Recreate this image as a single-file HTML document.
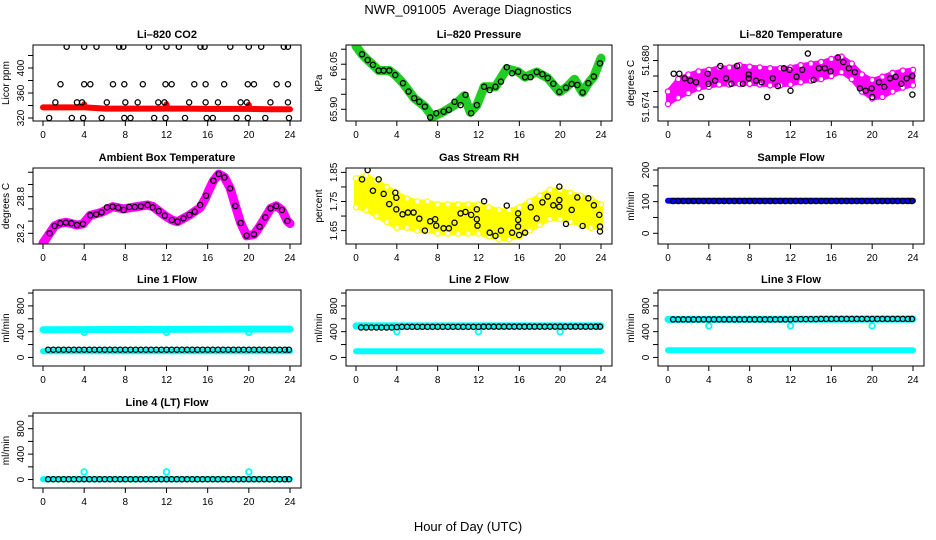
<!DOCTYPE html>
<html><head><meta charset="utf-8"><style>
html,body{margin:0;padding:0;background:#fff;}
svg{display:block;font-family:"Liberation Sans",Arial,sans-serif;}
</style></head><body>
<svg id="chart" width="936" height="540" viewBox="0 0 936 540" xmlns="http://www.w3.org/2000/svg">
<text x="468" y="14" text-anchor="middle" font-size="13">NWR_091005&#160; Average Diagnostics</text>
<text x="468" y="531" text-anchor="middle" font-size="13">Hour of Day (UTC)</text>
</svg>
<script>
// ---------- data ----------
const xTicks = [0,4,8,12,16,20,24];
// CO2
const co2BlackH = [2.3,4,5.2,7.4,7.8,10.3,12,13.2,15.3,15.7,18.2,20,21.2,23.4,23.8, 1.7,4,4.6,6.8,7.9,9.7,11.9,12.5,14.7,15.8,17.6,19.9,20.5,22.7,23.8, 1.2,3.3,3.8,6.2,8,9.2,11.2,11.8,14.2,15.8,17,19.2,19.8,22.1,23.8, 0.6,2.8,3.9,5.7,7.9,8.5,10.8,11.9,13.8,15.9,16.5,18.8,19.9,21.6,23.9];
const co2BlackV = [434,434,434,434,434,434,434,434,434,434,434,434,434,434,434, 374,374,374,374,374,374,374,374,374,374,374,374,374,374,374, 345,345,345,345,345,345,345,345,345,345,345,345,345,345,345, 320,320,320,320,320,320,320,320,320,320,320,320,320,320,320];
const co2RedH = [0,2,3.9,4,4.1,6,8,10,11.9,12,12.1,14,16,18,19.9,20,20.1,22,24];
const co2RedV = [337,337,337,342,337,335,335,335,335,342,335,335,334.5,334.5,334.5,341,334.5,334,334];
// Pressure
const presH = [0.59,1.14,1.66,2.22,2.71,3.26,3.85,4.6,5.15,5.7,6.2,6.75,7.27,7.86,8.58,9.1,9.65,10.24,10.73,11.28,11.84,12.55,13.1,13.66,14.2,14.77,15.29,15.88,16.56,17.1,17.7,18.26,18.78,19.33,19.92,20.57,21.13,21.68,22.2,22.76,23.3,23.9];
const presV = [66.083,66.064,66.048,66.029,66.029,66.029,66.014,65.987,65.959,65.937,65.925,65.909,65.873,65.887,65.892,65.898,65.925,65.914,65.948,65.887,65.914,65.975,65.964,65.975,65.992,66.040,66.020,66.025,66.007,66.007,66.024,66.017,66.004,65.985,65.958,65.972,65.984,65.981,65.956,65.987,66.009,66.053];
const presGreenH = [0,0.59,1.14,1.66,2.22,3.26,3.85,4.6,5.7,6.75,7.5,8.58,9.65,10.6,11.2,11.84,12.55,13.66,14.77,15.88,16.56,17.7,18.78,19.92,20.57,21.4,22.2,22.76,23.3,24];
const presGreenV = [66.11,66.083,66.064,66.048,66.029,66.029,66.014,65.987,65.937,65.909,65.875,65.892,65.914,65.945,65.89,65.914,65.975,65.975,66.035,66.025,66.007,66.024,66.004,65.958,65.972,66.0,65.956,65.987,66.009,66.07];
// Li-820 temperature
const tempH = [0.56,1.11,1.64,2.19,2.75,3.24,3.89,3.96,4.61,5.13,5.69,6.21,6.77,7.33,7.91,7.91,8.63,9.16,9.71,10.27,10.76,11.35,11.9,12.0,12.59,13.15,13.7,14.26,14.78,15.37,15.93,16.64,17.17,17.72,18.31,18.8,19.36,19.95,20.01,20.67,21.19,21.75,22.3,22.86,23.38,23.94,23.94];
const tempV = [51.6783,51.6783,51.6777,51.6774,51.6772,51.6753,51.6783,51.6770,51.6774,51.6793,51.6777,51.6770,51.6793,51.6770,51.6782,51.6777,51.6774,51.6772,51.6753,51.6777,51.6767,51.6790,51.6788,51.6761,51.6779,51.6788,51.6809,51.6775,51.6790,51.6790,51.6786,51.6804,51.6798,51.6790,51.6785,51.6764,51.6761,51.6764,51.6753,51.6772,51.6766,51.6777,51.6779,51.6770,51.6777,51.6780,51.6756];
const tempMagH = [0,1,2,3,4,5,6,7,8,9,10,11,12,13,14,15,16,17,18,19,20,21,22,23,24];
const tempMagV = [51.6752,51.6764,51.6770,51.6775,51.6777,51.6780,51.6780,51.6782,51.6781,51.6780,51.6779,51.6779,51.6780,51.6783,51.6785,51.6787,51.6791,51.6795,51.6786,51.6771,51.6763,51.6766,51.6772,51.6776,51.6778];
const tempSpread = [0.0008,0.0012,0.0012,0.0011,0.0011,0.0011,0.0011,0.0012,0.0011,0.0011,0.0011,0.0011,0.0011,0.0011,0.0011,0.0011,0.0011,0.0010,0.0010,0.0011,0.0012,0.0013,0.0012,0.0011,0.0010];
// Ambient box temperature
const ambH = [0.65,1.13,1.68,2.23,2.75,3.30,3.88,4.59,5.17,5.69,6.21,6.76,7.31,7.83,8.38,8.93,9.51,10.16,10.67,11.25,11.84,12.52,13.07,13.65,14.23,14.75,15.27,15.85,16.56,17.08,17.63,18.18,18.69,19.21,19.79,20.5,21.05,21.6,22.12,22.67,23.22,23.74];
const ambV = [28.200,28.320,28.364,28.375,28.364,28.336,28.353,28.495,28.511,28.544,28.625,28.636,28.620,28.582,28.631,28.631,28.642,28.664,28.625,28.565,28.489,28.418,28.391,28.445,28.500,28.555,28.664,28.816,29.062,29.171,29.116,28.936,28.647,28.369,28.162,28.184,28.309,28.462,28.609,28.647,28.582,28.402];
const ambMagH = [0,0.65,1.13,1.68,2.23,3.30,3.88,4.59,5.69,6.76,7.83,8.93,10.16,10.67,11.25,11.84,12.52,13.07,14.23,15.27,15.8,16.1,16.56,17.08,17.63,18.18,18.69,19.21,19.79,20.5,21.05,21.6,22.12,22.67,23.22,23.74,24];
const ambMagV = [28.04,28.2,28.32,28.364,28.38,28.336,28.353,28.495,28.544,28.636,28.6,28.631,28.664,28.64,28.565,28.489,28.418,28.391,28.5,28.62,28.78,28.9,29.06,29.17,29.12,28.94,28.65,28.37,28.16,28.18,28.31,28.46,28.61,28.65,28.58,28.4,28.36];
// Gas stream RH
const rhH = [0.59,1.14,1.66,2.22,2.71,3.26,3.85,3.95,3.95,4.56,5.09,5.64,6.2,6.75,7.27,7.76,7.86,8.58,9.1,9.65,10.24,10.73,11.28,11.84,11.84,11.9,12.55,13.1,13.66,14.2,14.77,15.29,15.88,15.88,15.88,15.98,16.56,17.12,17.7,18.26,18.78,19.33,19.92,19.92,19.92,20.57,21.13,21.68,22.2,22.76,23.3,23.83,23.9,23.9];
const rhV = [1.826,1.858,1.787,1.826,1.776,1.741,1.780,1.763,1.723,1.706,1.712,1.712,1.691,1.650,1.682,1.689,1.667,1.658,1.658,1.677,1.709,1.714,1.704,1.723,1.689,1.667,1.751,1.643,1.632,1.650,1.736,1.643,1.709,1.687,1.664,1.635,1.643,1.730,1.692,1.747,1.767,1.737,1.801,1.755,1.732,1.673,1.721,1.764,1.666,1.761,1.737,1.704,1.664,1.647];
const rhYelH = [0,1,2,3,4,5,6,7,8,9,10,11,12,13,14,15,16,17,18,19,20,21,22,23,24];
const rhYelV = [1.78,1.78,1.76,1.74,1.72,1.71,1.70,1.70,1.69,1.69,1.69,1.69,1.69,1.68,1.67,1.67,1.68,1.70,1.72,1.74,1.74,1.73,1.72,1.71,1.70];
const rhSpread = [0.05,0.06,0.06,0.06,0.06,0.05,0.05,0.05,0.05,0.05,0.05,0.05,0.05,0.05,0.05,0.05,0.05,0.05,0.05,0.05,0.05,0.05,0.05,0.05,0.04];
// Flows (black = half-hour averages)
const flowH = [0.5,1,1.5,2,2.5,3,3.5,4,4.5,5,5.5,6,6.5,7,7.5,8,8.5,9,9.5,10,10.5,11,11.5,12,12.5,13,13.5,14,14.5,15,15.5,16,16.5,17,17.5,18,18.5,19,19.5,20,20.5,21,21.5,22,22.5,23,23.5,23.9];
const sampleBlack = [102,102,102,102,102,102,102,102,102,102,102,102,102,102,102,102,102,102,102,102,102,102,102,102,102,102,102,102,102,102,102,102,102,102,102,102,102,102,102,102,102,102,102,102,102,102,102,102];
const line1Black = [120,120,120,120,120,120,120,120,120,120,120,120,120,120,120,120,120,120,120,120,120,120,120,120,120,120,120,120,120,120,120,120,120,120,120,120,120,120,120,120,120,120,120,120,120,120,120,120];
const line2Black = [465,465,465,465,465,465,465,470,475,475,475,475,475,475,475,475,475,475,475,475,475,475,475,475,478,478,478,478,478,478,478,478,478,478,478,478,478,478,478,478,478,478,478,478,478,478,478,478];
const line3Black = [590,590,590,590,590,590,590,590,590,590,590,590,590,590,590,590,590,590,590,590,590,590,590,590,595,595,595,595,595,598,598,598,598,598,598,598,598,598,598,598,598,598,598,598,598,598,598,598];
const line4Black = [5,5,5,5,5,5,5,5,5,5,5,5,5,5,5,5,5,5,5,5,5,5,5,5,5,5,5,5,5,5,5,5,5,5,5,5,5,5,5,5,5,5,5,5,5,5,5,5];
const bandH = [0,24];
const sampleBlue = [103,103];
const line1CyanHi = [430,440];
const line1CyanLo = [95,95];
const line2CyanHi = [490,490];
const line2CyanLo = [95,95];
const line3CyanHi = [590,595];
const line3CyanLo = [110,110];
const line4Cyan = [5,5];
const outlierH = [4,12,20];
const line1Out = [390,390,390];
const line2Out = [400,400,400];
const line3Out = [490,490,490];
const line4Out = [120,120,120];

// ---------- drawing ----------
const NS = "http://www.w3.org/2000/svg";
const svg = document.getElementById('chart');
function el(tag, attrs, parent) {
  const e = document.createElementNS(NS, tag);
  for (const k in attrs) e.setAttribute(k, attrs[k]);
  (parent || svg).appendChild(e);
  return e;
}
const cols = [[33,301],[346,612],[658,924]];
const rows = [[45,121],[168,244],[290,366],[413,488]];
function makePanel(c, r, ymin, ymax, yticks, ylabels, ylab, title, name) {
  const p = {l:cols[c][0], r:cols[c][1], t:rows[r][0], b:rows[r][1], ymin, ymax};
  const g = el('g', {});
  
  
  p.g = g;
  p.sx = h => p.l + 10 + h / 24 * (p.r - p.l - 21);
  p.sy = v => p.b - (v - p.ymin) / (p.ymax - p.ymin) * (p.b - p.t);
  const t = el('text', {x:(p.l+p.r)/2, y:p.t-7, 'text-anchor':'middle', 'font-size':11, 'font-weight':'bold'}, g);
  t.textContent = title;
  
  
  const yl = el('text', {x:0, y:0, 'text-anchor':'middle', 'font-size':10, transform:`translate(${p.l-24},${(p.t+p.b)/2}) rotate(-90)`}, g);
  yl.textContent = ylab;
  
  
  const xa = el('g', {stroke:'#000', 'stroke-width':1}, g);
  
  
  xTicks.forEach(h => {
    const x = p.sx(h);
    el('line', {x1:x, x2:x, y1:p.b, y2:p.b+5}, xa);
    const lt = el('text', {x:x, y:p.b+17, 'text-anchor':'middle', 'font-size':10, stroke:'none'}, xa);
    lt.textContent = h;
  });
  const ya = el('g', {stroke:'#000', 'stroke-width':1}, g);
  
  
  yticks.forEach(v => {
    const y = p.sy(v);
    el('line', {x1:p.l, x2:p.l-5, y1:y, y2:y}, ya);
  });
  ylabels.forEach(v => {
    const y = p.sy(v);
    const lt = el('text', {x:0, y:0, 'text-anchor':'middle', 'font-size':10, stroke:'none', transform:`translate(${p.l-9},${y}) rotate(-90)`}, ya);
    lt.textContent = v;
  });
  const clip = el('clipPath', {id:'clip-'+name}, g);
  el('rect', {x:p.l, y:p.t, width:p.r-p.l, height:p.b-p.t}, clip);
  p.plot = el('g', {'clip-path':`url(#clip-${name})`}, g);
  p.finish = () => {
    const box = el('rect', {x:p.l, y:p.t, width:p.r-p.l, height:p.b-p.t, fill:'none', stroke:'#000', 'stroke-width':1}, g);
    
    
  };
  return p;
}
function points(p, hs, vs, color, name, r, w) {
  const g = el('g', {fill:'none', stroke:color, 'stroke-width':w || 1.3}, p.plot);
  
  
  hs.forEach((h, i) => {
    const c = el('circle', {cx:p.sx(h), cy:p.sy(vs[i]), r:r || 2.6}, g);
    
  });
}
function band(p, hs, vs, color, name, width) {
  const d = hs.map((h, i) => (i ? 'L' : 'M') + p.sx(h).toFixed(1) + ',' + p.sy(vs[i]).toFixed(1)).join(' ');
  const path = el('path', {d:d, fill:'none', stroke:color, 'stroke-width':width, 'stroke-linejoin':'round', 'stroke-linecap':'round'}, p.plot);
  
  
}
function spreadBand(p, hs, vs, sp, color, name) {
  const up = hs.map((h, i) => p.sx(h).toFixed(1) + ',' + p.sy(vs[i] + sp[i]).toFixed(1));
  const dn = hs.map((h, i) => p.sx(h).toFixed(1) + ',' + p.sy(vs[i] - sp[i]).toFixed(1)).reverse();
  const poly = el('polygon', {points:up.concat(dn).join(' '), fill:color, stroke:color, 'stroke-width':4, 'stroke-linejoin':'round'}, p.plot);
  
  
  const g = el('g', {fill:'#fff', stroke:color, 'stroke-width':1.3}, p.plot);
  
  
  hs.forEach((h, i) => {
    el('circle', {cx:p.sx(h), cy:p.sy(vs[i] + sp[i]), r:2.6}, g);
    el('circle', {cx:p.sx(h), cy:p.sy(vs[i] - sp[i]), r:2.6}, g);
  });
}

let p;
p = makePanel(0,0,315.2,436.8,[320,340,360,380,400,420],[320,360,400],'Licor ppm','Li\u2013820 CO2','co2');
band(p, co2RedH, co2RedV, '#ff0000', 'co2-raw-band', 6);
points(p, co2BlackH, co2BlackV, '#000', 'co2-averages');
p.finish();

p = makePanel(1,0,65.861,66.114,[65.90,65.95,66.00,66.05,66.10],['65.90','66.05'],'kPa','Li\u2013820 Pressure','pressure');
band(p, presGreenH, presGreenV, '#22cc22', 'pressure-raw-band', 9);
points(p, presH, presV, '#000', 'pressure-averages');
p.finish();

p = makePanel(2,0,51.6722,51.682,[51.674,51.676,51.678,51.680,51.682],['51.674','51.680'],'degrees C','Li\u2013820 Temperature','li820-temp');
spreadBand(p, tempMagH, tempMagV, tempSpread, '#ff00ff', 'li820-temp-raw-band');
points(p, tempH, tempV, '#000', 'li820-temp-averages');
p.finish();

p = makePanel(0,1,28.025,29.27,[28.2,28.4,28.6,28.8,29.0,29.2],['28.2','28.8'],'degrees C','Ambient Box Temperature','ambient-temp');
band(p, ambMagH, ambMagV, '#ff00ff', 'ambient-temp-raw-band', 9);
points(p, ambH, ambV, '#000', 'ambient-temp-averages');
p.finish();

p = makePanel(1,1,1.604,1.865,[1.65,1.70,1.75,1.80,1.85],['1.65','1.75','1.85'],'percent','Gas Stream RH','rh');
spreadBand(p, rhYelH, rhYelV, rhSpread, '#ffff00', 'rh-raw-band');
points(p, rhH, rhV, '#000', 'rh-averages');
p.finish();

p = makePanel(2,1,-33.8,206.3,[0,50,100,150,200],[0,100,200],'ml/min','Sample Flow','sample-flow');
band(p, bandH, sampleBlue, '#0000ff', 'sample-flow-raw-band', 6);
points(p, flowH, sampleBlack, '#000', 'sample-flow-averages');
p.finish();

const flowTicks = [0,200,400,600,800,1000];
const flowLabels = [0,400,800];
p = makePanel(0,2,-133,1047,flowTicks,flowLabels,'ml/min','Line 1 Flow','line1-flow');
band(p, bandH, line1CyanHi, '#00ffff', 'line1-flow-raw-high', 7);
band(p, bandH, line1CyanLo, '#00ffff', 'line1-flow-raw-low', 6);
points(p, outlierH, line1Out, '#00ffff', 'line1-flow-outliers', 2.8, 1.8);
points(p, flowH, line1Black, '#000', 'line1-flow-averages');
p.finish();

p = makePanel(1,2,-133,1047,flowTicks,flowLabels,'ml/min','Line 2 Flow','line2-flow');
band(p, bandH, line2CyanHi, '#00ffff', 'line2-flow-raw-high', 7);
band(p, bandH, line2CyanLo, '#00ffff', 'line2-flow-raw-low', 6);
points(p, outlierH, line2Out, '#00ffff', 'line2-flow-outliers', 2.8, 1.8);
points(p, flowH, line2Black, '#000', 'line2-flow-averages');
p.finish();

p = makePanel(2,2,-133,1047,flowTicks,flowLabels,'ml/min','Line 3 Flow','line3-flow');
band(p, bandH, line3CyanHi, '#00ffff', 'line3-flow-raw-high', 7);
band(p, bandH, line3CyanLo, '#00ffff', 'line3-flow-raw-low', 6);
points(p, outlierH, line3Out, '#00ffff', 'line3-flow-outliers', 2.8, 1.8);
points(p, flowH, line3Black, '#000', 'line3-flow-averages');
p.finish();

p = makePanel(0,3,-133,1047,flowTicks,flowLabels,'ml/min','Line 4 (LT) Flow','line4-flow');
band(p, bandH, line4Cyan, '#00ffff', 'line4-flow-raw-band', 6);
points(p, outlierH, line4Out, '#00ffff', 'line4-flow-outliers', 2.8, 1.8);
points(p, flowH, line4Black, '#000', 'line4-flow-averages');
p.finish();
</script>
</body></html>
